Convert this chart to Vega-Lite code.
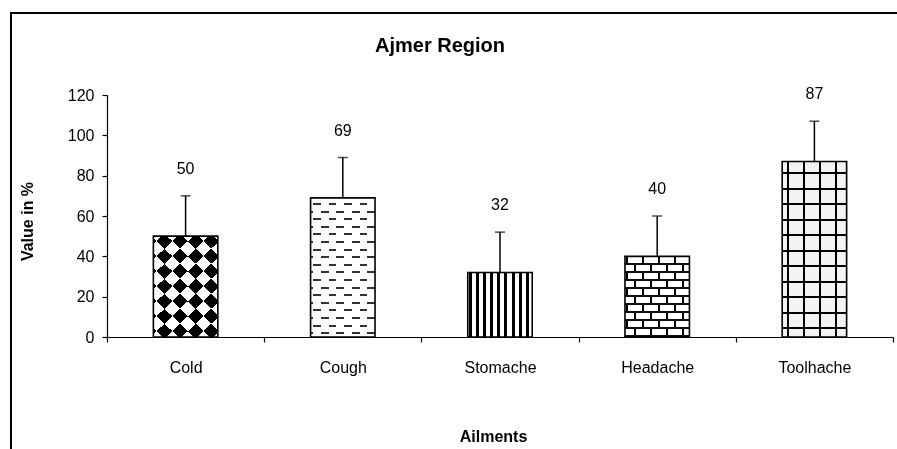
{
  "$schema": "https://vega.github.io/schema/vega-lite/v6.json",
  "width": 888,
  "height": 438,
  "autosize": {"type": "none"},
  "padding": {"left": 11, "top": 13, "right": -2, "bottom": -2},
  "background": "white",
  "title": {"text": "Ajmer Region", "font": "Liberation Sans", "fontSize": 20, "fontWeight": "bold", "color": "#000", "anchor": "middle", "frame": "group", "dx": -15, "offset": -59, "baseline": "alphabetic"},
  "data": {"values": [
    {"Ailment": "Cold", "Value": 50, "Upper": 70},
    {"Ailment": "Cough", "Value": 69, "Upper": 89},
    {"Ailment": "Stomache", "Value": 32, "Upper": 52},
    {"Ailment": "Headache", "Value": 40, "Upper": 60},
    {"Ailment": "Toolhache", "Value": 87, "Upper": 107}
  ]},
  "encoding": {
    "x": {"field": "Ailment", "type": "nominal", "sort": null,
      "scale": {"type": "band", "paddingInner": 0, "paddingOuter": 0, "range": [96, 882]},
      "axis": {"orient": "bottom", "offset": -114, "labelAngle": 0, "labelFontSize": 16, "labelPadding": 17, "labelBaseline": "top", "tickSize": 5, "tickBand": "extent", "title": "Ailments", "titleFontSize": 16, "titleFontWeight": "bold", "titleX": 482, "titleY": 104.5, "titleBaseline": "alphabetic", "titleAlign": "center"}},
    "y": {"field": "Value", "type": "quantitative",
      "scale": {"domain": [0, 120], "range": [324, 82], "nice": false, "zero": true},
      "axis": {"orient": "left", "offset": -96, "values": [0, 20, 40, 60, 80, 100, 120], "labelFontSize": 16, "labelPadding": 8, "tickSize": 5, "title": "Value in %", "titleFontSize": 16, "titleFontWeight": "bold", "titleX": -75, "titleY": 208, "titleBaseline": "alphabetic", "titleAlign": "center", "titleAngle": 270}}
  },
  "layer": [
    {"transform": [{"filter": "datum.Ailment === 'Cold'"}],
     "mark": {"type": "bar", "width": {"band": 0.41}, "stroke": null, "fill": {"gradient": "linear", "x1": 0, "y1": 0, "x2": 0.72, "y2": 1.172, "stops": [
       {"offset": 0, "color": "#fff"}, {"offset": 0.05, "color": "#fff"}, {"offset": 0.05, "color": "#000"}, {"offset": 0.1422, "color": "#000"}, {"offset": 0.1422, "color": "#fff"}, {"offset": 0.2344, "color": "#fff"}, {"offset": 0.2344, "color": "#000"}, {"offset": 0.3265, "color": "#000"}, {"offset": 0.3265, "color": "#fff"}, {"offset": 0.4187, "color": "#fff"}, {"offset": 0.4187, "color": "#000"}, {"offset": 0.5109, "color": "#000"}, {"offset": 0.5109, "color": "#fff"}, {"offset": 0.6031, "color": "#fff"}, {"offset": 0.6031, "color": "#000"}, {"offset": 0.6952, "color": "#000"}, {"offset": 0.6952, "color": "#fff"}, {"offset": 0.7874, "color": "#fff"}, {"offset": 0.7874, "color": "#000"}, {"offset": 0.8796, "color": "#000"}, {"offset": 0.8796, "color": "#fff"}, {"offset": 0.9718, "color": "#fff"}, {"offset": 0.9718, "color": "#000"}, {"offset": 1, "color": "#000"}]}}},
    {"transform": [{"filter": "datum.Ailment === 'Cold'"}],
     "mark": {"type": "bar", "width": {"band": 0.41}, "stroke": null, "blend": "difference", "fill": {"gradient": "linear", "x1": 0, "y1": 1, "x2": 0.72, "y2": -0.172, "stops": [
       {"offset": 0, "color": "#fff"}, {"offset": 0.055, "color": "#fff"}, {"offset": 0.055, "color": "#000"}, {"offset": 0.1472, "color": "#000"}, {"offset": 0.1472, "color": "#fff"}, {"offset": 0.2394, "color": "#fff"}, {"offset": 0.2394, "color": "#000"}, {"offset": 0.3316, "color": "#000"}, {"offset": 0.3316, "color": "#fff"}, {"offset": 0.4237, "color": "#fff"}, {"offset": 0.4237, "color": "#000"}, {"offset": 0.5159, "color": "#000"}, {"offset": 0.5159, "color": "#fff"}, {"offset": 0.6081, "color": "#fff"}, {"offset": 0.6081, "color": "#000"}, {"offset": 0.7003, "color": "#000"}, {"offset": 0.7003, "color": "#fff"}, {"offset": 0.7924, "color": "#fff"}, {"offset": 0.7924, "color": "#000"}, {"offset": 0.8846, "color": "#000"}, {"offset": 0.8846, "color": "#fff"}, {"offset": 0.9768, "color": "#fff"}, {"offset": 0.9768, "color": "#000"}, {"offset": 1, "color": "#000"}]}}},
    {"transform": [{"filter": "datum.Ailment === 'Cough'"}],
     "mark": {"type": "bar", "width": {"band": 0.41}, "stroke": null, "fill": {"gradient": "linear", "x1": 0, "y1": 0, "x2": 1, "y2": 0, "stops": [
       {"offset": 0, "color": "#fff"}, {"offset": 0.0388, "color": "#fff"}, {"offset": 0.0388, "color": "#000"}, {"offset": 0.155, "color": "#000"}, {"offset": 0.155, "color": "#fff"}, {"offset": 0.2791, "color": "#fff"}, {"offset": 0.2791, "color": "#000"}, {"offset": 0.3953, "color": "#000"}, {"offset": 0.3953, "color": "#fff"}, {"offset": 0.5194, "color": "#fff"}, {"offset": 0.5194, "color": "#000"}, {"offset": 0.6357, "color": "#000"}, {"offset": 0.6357, "color": "#fff"}, {"offset": 0.7597, "color": "#fff"}, {"offset": 0.7597, "color": "#000"}, {"offset": 0.876, "color": "#000"}, {"offset": 0.876, "color": "#fff"}, {"offset": 1, "color": "#fff"}]}}},
    {"transform": [{"filter": "datum.Ailment === 'Cough'"}],
     "mark": {"type": "bar", "width": {"band": 0.41}, "stroke": null, "blend": "difference", "fill": {"gradient": "linear", "x1": 0, "y1": 0, "x2": 0, "y2": 1, "stops": [
       {"offset": 0, "color": "#000"}, {"offset": 0.0718, "color": "#000"}, {"offset": 0.0718, "color": "#fff"}, {"offset": 0.1264, "color": "#fff"}, {"offset": 0.1264, "color": "#000"}, {"offset": 0.181, "color": "#000"}, {"offset": 0.181, "color": "#fff"}, {"offset": 0.2356, "color": "#fff"}, {"offset": 0.2356, "color": "#000"}, {"offset": 0.2902, "color": "#000"}, {"offset": 0.2902, "color": "#fff"}, {"offset": 0.3448, "color": "#fff"}, {"offset": 0.3448, "color": "#000"}, {"offset": 0.3994, "color": "#000"}, {"offset": 0.3994, "color": "#fff"}, {"offset": 0.454, "color": "#fff"}, {"offset": 0.454, "color": "#000"}, {"offset": 0.5086, "color": "#000"}, {"offset": 0.5086, "color": "#fff"}, {"offset": 0.5632, "color": "#fff"}, {"offset": 0.5632, "color": "#000"}, {"offset": 0.6178, "color": "#000"}, {"offset": 0.6178, "color": "#fff"}, {"offset": 0.6724, "color": "#fff"}, {"offset": 0.6724, "color": "#000"}, {"offset": 0.727, "color": "#000"}, {"offset": 0.727, "color": "#fff"}, {"offset": 0.7816, "color": "#fff"}, {"offset": 0.7816, "color": "#000"}, {"offset": 0.8362, "color": "#000"}, {"offset": 0.8362, "color": "#fff"}, {"offset": 0.8908, "color": "#fff"}, {"offset": 0.8908, "color": "#000"}, {"offset": 0.9454, "color": "#000"}, {"offset": 0.9454, "color": "#fff"}, {"offset": 1, "color": "#fff"}]}}},
    {"transform": [{"filter": "datum.Ailment === 'Cough'"}],
     "mark": {"type": "bar", "width": {"band": 0.41}, "stroke": null, "blend": "lighten", "fill": {"gradient": "linear", "x1": 0, "y1": 0, "x2": 0, "y2": 1, "stops": [
       {"offset": 0, "color": "#fff"}, {"offset": 0.0374, "color": "#fff"}, {"offset": 0.0374, "color": "#333"}, {"offset": 0.0517, "color": "#333"}, {"offset": 0.0517, "color": "#fff"},
       {"offset": 0.092, "color": "#fff"}, {"offset": 0.092, "color": "#333"}, {"offset": 0.1063, "color": "#333"}, {"offset": 0.1063, "color": "#fff"},
       {"offset": 0.1466, "color": "#fff"}, {"offset": 0.1466, "color": "#333"}, {"offset": 0.1609, "color": "#333"}, {"offset": 0.1609, "color": "#fff"},
       {"offset": 0.2011, "color": "#fff"}, {"offset": 0.2011, "color": "#333"}, {"offset": 0.2155, "color": "#333"}, {"offset": 0.2155, "color": "#fff"},
       {"offset": 0.2557, "color": "#fff"}, {"offset": 0.2557, "color": "#333"}, {"offset": 0.2701, "color": "#333"}, {"offset": 0.2701, "color": "#fff"},
       {"offset": 0.3103, "color": "#fff"}, {"offset": 0.3103, "color": "#333"}, {"offset": 0.3247, "color": "#333"}, {"offset": 0.3247, "color": "#fff"},
       {"offset": 0.3649, "color": "#fff"}, {"offset": 0.3649, "color": "#333"}, {"offset": 0.3793, "color": "#333"}, {"offset": 0.3793, "color": "#fff"},
       {"offset": 0.4195, "color": "#fff"}, {"offset": 0.4195, "color": "#333"}, {"offset": 0.4339, "color": "#333"}, {"offset": 0.4339, "color": "#fff"},
       {"offset": 0.4741, "color": "#fff"}, {"offset": 0.4741, "color": "#333"}, {"offset": 0.4885, "color": "#333"}, {"offset": 0.4885, "color": "#fff"},
       {"offset": 0.5287, "color": "#fff"}, {"offset": 0.5287, "color": "#333"}, {"offset": 0.5431, "color": "#333"}, {"offset": 0.5431, "color": "#fff"},
       {"offset": 0.5833, "color": "#fff"}, {"offset": 0.5833, "color": "#333"}, {"offset": 0.5977, "color": "#333"}, {"offset": 0.5977, "color": "#fff"},
       {"offset": 0.6379, "color": "#fff"}, {"offset": 0.6379, "color": "#333"}, {"offset": 0.6523, "color": "#333"}, {"offset": 0.6523, "color": "#fff"},
       {"offset": 0.6925, "color": "#fff"}, {"offset": 0.6925, "color": "#333"}, {"offset": 0.7069, "color": "#333"}, {"offset": 0.7069, "color": "#fff"},
       {"offset": 0.7471, "color": "#fff"}, {"offset": 0.7471, "color": "#333"}, {"offset": 0.7615, "color": "#333"}, {"offset": 0.7615, "color": "#fff"},
       {"offset": 0.8017, "color": "#fff"}, {"offset": 0.8017, "color": "#333"}, {"offset": 0.8161, "color": "#333"}, {"offset": 0.8161, "color": "#fff"},
       {"offset": 0.8563, "color": "#fff"}, {"offset": 0.8563, "color": "#333"}, {"offset": 0.8707, "color": "#333"}, {"offset": 0.8707, "color": "#fff"},
       {"offset": 0.9109, "color": "#fff"}, {"offset": 0.9109, "color": "#333"}, {"offset": 0.9253, "color": "#333"}, {"offset": 0.9253, "color": "#fff"},
       {"offset": 0.9655, "color": "#fff"}, {"offset": 0.9655, "color": "#333"}, {"offset": 0.9799, "color": "#333"}, {"offset": 0.9799, "color": "#fff"}, {"offset": 1, "color": "#fff"}]}}},
    {"transform": [{"filter": "datum.Ailment === 'Stomache'"}],
     "mark": {"type": "bar", "width": {"band": 0.41}, "stroke": null, "fill": {"gradient": "linear", "x1": 0, "y1": 0, "x2": 1, "y2": 0, "stops": [
       {"offset": 0, "color": "#fff"}, {"offset": 0.0186, "color": "#fff"}, {"offset": 0.0186, "color": "#000"}, {"offset": 0.0652, "color": "#000"}, {"offset": 0.0652, "color": "#fff"},
       {"offset": 0.1288, "color": "#fff"}, {"offset": 0.1288, "color": "#000"}, {"offset": 0.1753, "color": "#000"}, {"offset": 0.1753, "color": "#fff"},
       {"offset": 0.2389, "color": "#fff"}, {"offset": 0.2389, "color": "#000"}, {"offset": 0.2855, "color": "#000"}, {"offset": 0.2855, "color": "#fff"},
       {"offset": 0.3491, "color": "#fff"}, {"offset": 0.3491, "color": "#000"}, {"offset": 0.3957, "color": "#000"}, {"offset": 0.3957, "color": "#fff"},
       {"offset": 0.4593, "color": "#fff"}, {"offset": 0.4593, "color": "#000"}, {"offset": 0.5058, "color": "#000"}, {"offset": 0.5058, "color": "#fff"},
       {"offset": 0.5694, "color": "#fff"}, {"offset": 0.5694, "color": "#000"}, {"offset": 0.616, "color": "#000"}, {"offset": 0.616, "color": "#fff"},
       {"offset": 0.6796, "color": "#fff"}, {"offset": 0.6796, "color": "#000"}, {"offset": 0.7262, "color": "#000"}, {"offset": 0.7262, "color": "#fff"},
       {"offset": 0.7898, "color": "#fff"}, {"offset": 0.7898, "color": "#000"}, {"offset": 0.8363, "color": "#000"}, {"offset": 0.8363, "color": "#fff"},
       {"offset": 0.8999, "color": "#fff"}, {"offset": 0.8999, "color": "#000"}, {"offset": 0.9465, "color": "#000"}, {"offset": 0.9465, "color": "#fff"}, {"offset": 1, "color": "#fff"}]}}},
    {"transform": [{"filter": "datum.Ailment === 'Headache'"}],
     "mark": {"type": "bar", "width": {"band": 0.41}, "stroke": null, "fill": {"gradient": "linear", "x1": 0, "y1": 0, "x2": 1, "y2": 0, "stops": [
       {"offset": 0, "color": "#fff"}, {"offset": 0.0109, "color": "#fff"}, {"offset": 0.0109, "color": "#000"}, {"offset": 0.0419, "color": "#000"}, {"offset": 0.0419, "color": "#fff"},
       {"offset": 0.1349, "color": "#fff"}, {"offset": 0.1349, "color": "#000"}, {"offset": 0.1659, "color": "#000"}, {"offset": 0.1659, "color": "#fff"},
       {"offset": 0.2589, "color": "#fff"}, {"offset": 0.2589, "color": "#000"}, {"offset": 0.2899, "color": "#000"}, {"offset": 0.2899, "color": "#fff"},
       {"offset": 0.3829, "color": "#fff"}, {"offset": 0.3829, "color": "#000"}, {"offset": 0.414, "color": "#000"}, {"offset": 0.414, "color": "#fff"},
       {"offset": 0.507, "color": "#fff"}, {"offset": 0.507, "color": "#000"}, {"offset": 0.538, "color": "#000"}, {"offset": 0.538, "color": "#fff"},
       {"offset": 0.631, "color": "#fff"}, {"offset": 0.631, "color": "#000"}, {"offset": 0.662, "color": "#000"}, {"offset": 0.662, "color": "#fff"},
       {"offset": 0.755, "color": "#fff"}, {"offset": 0.755, "color": "#000"}, {"offset": 0.786, "color": "#000"}, {"offset": 0.786, "color": "#fff"},
       {"offset": 0.8791, "color": "#fff"}, {"offset": 0.8791, "color": "#000"}, {"offset": 0.9101, "color": "#000"}, {"offset": 0.9101, "color": "#fff"}, {"offset": 1, "color": "#fff"}]}}},
    {"transform": [{"filter": "datum.Ailment === 'Headache'"}],
     "mark": {"type": "bar", "width": {"band": 0.41}, "stroke": null, "blend": "lighten", "fill": {"gradient": "linear", "x1": 0, "y1": 0, "x2": 0, "y2": 1, "stops": [
       {"offset": 0, "color": "#000"}, {"offset": 0.0992, "color": "#000"}, {"offset": 0.0992, "color": "#fff"}, {"offset": 0.1983, "color": "#fff"}, {"offset": 0.1983, "color": "#000"}, {"offset": 0.2975, "color": "#000"}, {"offset": 0.2975, "color": "#fff"}, {"offset": 0.3967, "color": "#fff"}, {"offset": 0.3967, "color": "#000"}, {"offset": 0.4958, "color": "#000"}, {"offset": 0.4958, "color": "#fff"}, {"offset": 0.595, "color": "#fff"}, {"offset": 0.595, "color": "#000"}, {"offset": 0.6942, "color": "#000"}, {"offset": 0.6942, "color": "#fff"}, {"offset": 0.7934, "color": "#fff"}, {"offset": 0.7934, "color": "#000"}, {"offset": 0.8925, "color": "#000"}, {"offset": 0.8925, "color": "#fff"}, {"offset": 0.9917, "color": "#fff"}, {"offset": 0.9917, "color": "#000"}, {"offset": 1, "color": "#000"}]}}},
    {"transform": [{"filter": "datum.Ailment === 'Headache'"}],
     "mark": {"type": "bar", "width": {"band": 0.41}, "stroke": null, "blend": "difference", "fill": {"gradient": "linear", "x1": 0, "y1": 0, "x2": 1, "y2": 0, "stops": [
       {"offset": 0, "color": "#000"}, {"offset": 0.1349, "color": "#000"}, {"offset": 0.1349, "color": "#fff"}, {"offset": 0.1659, "color": "#fff"}, {"offset": 0.1659, "color": "#000"},
       {"offset": 0.3829, "color": "#000"}, {"offset": 0.3829, "color": "#fff"}, {"offset": 0.414, "color": "#fff"}, {"offset": 0.414, "color": "#000"},
       {"offset": 0.631, "color": "#000"}, {"offset": 0.631, "color": "#fff"}, {"offset": 0.662, "color": "#fff"}, {"offset": 0.662, "color": "#000"},
       {"offset": 0.8791, "color": "#000"}, {"offset": 0.8791, "color": "#fff"}, {"offset": 0.9101, "color": "#fff"}, {"offset": 0.9101, "color": "#000"}, {"offset": 1, "color": "#000"}]}}},
    {"transform": [{"filter": "datum.Ailment === 'Headache'"}],
     "mark": {"type": "bar", "width": {"band": 0.41}, "stroke": null, "fill": {"gradient": "linear", "x1": 0, "y1": 0, "x2": 0, "y2": 1, "stops": [
       {"offset": 0, "color": "rgba(0,0,0,0)"}, {"offset": 0.0868, "color": "rgba(0,0,0,0)"}, {"offset": 0.0868, "color": "#111"}, {"offset": 0.1116, "color": "#111"}, {"offset": 0.1116, "color": "rgba(0,0,0,0)"},
       {"offset": 0.1859, "color": "rgba(0,0,0,0)"}, {"offset": 0.1859, "color": "#111"}, {"offset": 0.2107, "color": "#111"}, {"offset": 0.2107, "color": "rgba(0,0,0,0)"},
       {"offset": 0.2851, "color": "rgba(0,0,0,0)"}, {"offset": 0.2851, "color": "#111"}, {"offset": 0.3099, "color": "#111"}, {"offset": 0.3099, "color": "rgba(0,0,0,0)"},
       {"offset": 0.3843, "color": "rgba(0,0,0,0)"}, {"offset": 0.3843, "color": "#111"}, {"offset": 0.4091, "color": "#111"}, {"offset": 0.4091, "color": "rgba(0,0,0,0)"},
       {"offset": 0.4834, "color": "rgba(0,0,0,0)"}, {"offset": 0.4834, "color": "#111"}, {"offset": 0.5082, "color": "#111"}, {"offset": 0.5082, "color": "rgba(0,0,0,0)"},
       {"offset": 0.5826, "color": "rgba(0,0,0,0)"}, {"offset": 0.5826, "color": "#111"}, {"offset": 0.6074, "color": "#111"}, {"offset": 0.6074, "color": "rgba(0,0,0,0)"},
       {"offset": 0.6818, "color": "rgba(0,0,0,0)"}, {"offset": 0.6818, "color": "#111"}, {"offset": 0.7066, "color": "#111"}, {"offset": 0.7066, "color": "rgba(0,0,0,0)"},
       {"offset": 0.781, "color": "rgba(0,0,0,0)"}, {"offset": 0.781, "color": "#111"}, {"offset": 0.8058, "color": "#111"}, {"offset": 0.8058, "color": "rgba(0,0,0,0)"},
       {"offset": 0.8801, "color": "rgba(0,0,0,0)"}, {"offset": 0.8801, "color": "#111"}, {"offset": 0.9049, "color": "#111"}, {"offset": 0.9049, "color": "rgba(0,0,0,0)"},
       {"offset": 0.9793, "color": "rgba(0,0,0,0)"}, {"offset": 0.9793, "color": "#111"}, {"offset": 1, "color": "#111"}]}}},
    {"transform": [{"filter": "datum.Ailment === 'Toolhache'"}],
     "mark": {"type": "bar", "width": {"band": 0.41}, "stroke": null, "fill": {"gradient": "linear", "x1": 0, "y1": 0, "x2": 1, "y2": 0, "stops": [
       {"offset": 0, "color": "#f3f3f3"}, {"offset": 0.0791, "color": "#f3f3f3"}, {"offset": 0.0791, "color": "#000"}, {"offset": 0.1102, "color": "#000"}, {"offset": 0.1102, "color": "#f3f3f3"},
       {"offset": 0.3258, "color": "#f3f3f3"}, {"offset": 0.3258, "color": "#000"}, {"offset": 0.3569, "color": "#000"}, {"offset": 0.3569, "color": "#f3f3f3"},
       {"offset": 0.5725, "color": "#f3f3f3"}, {"offset": 0.5725, "color": "#000"}, {"offset": 0.6036, "color": "#000"}, {"offset": 0.6036, "color": "#f3f3f3"},
       {"offset": 0.8192, "color": "#f3f3f3"}, {"offset": 0.8192, "color": "#000"}, {"offset": 0.8503, "color": "#000"}, {"offset": 0.8503, "color": "#f3f3f3"}, {"offset": 1, "color": "#f3f3f3"}]}}},
    {"transform": [{"filter": "datum.Ailment === 'Toolhache'"}],
     "mark": {"type": "bar", "width": {"band": 0.41}, "stroke": null, "fill": {"gradient": "linear", "x1": 0, "y1": 0, "x2": 0, "y2": 1, "stops": [
       {"offset": 0, "color": "rgba(0,0,0,0)"}, {"offset": 0.0615, "color": "rgba(0,0,0,0)"}, {"offset": 0.0615, "color": "#000"}, {"offset": 0.0729, "color": "#000"}, {"offset": 0.0729, "color": "rgba(0,0,0,0)"},
       {"offset": 0.1499, "color": "rgba(0,0,0,0)"}, {"offset": 0.1499, "color": "#000"}, {"offset": 0.1613, "color": "#000"}, {"offset": 0.1613, "color": "rgba(0,0,0,0)"},
       {"offset": 0.2382, "color": "rgba(0,0,0,0)"}, {"offset": 0.2382, "color": "#000"}, {"offset": 0.2496, "color": "#000"}, {"offset": 0.2496, "color": "rgba(0,0,0,0)"},
       {"offset": 0.3265, "color": "rgba(0,0,0,0)"}, {"offset": 0.3265, "color": "#000"}, {"offset": 0.3379, "color": "#000"}, {"offset": 0.3379, "color": "rgba(0,0,0,0)"},
       {"offset": 0.4148, "color": "rgba(0,0,0,0)"}, {"offset": 0.4148, "color": "#000"}, {"offset": 0.4262, "color": "#000"}, {"offset": 0.4262, "color": "rgba(0,0,0,0)"},
       {"offset": 0.5031, "color": "rgba(0,0,0,0)"}, {"offset": 0.5031, "color": "#000"}, {"offset": 0.5145, "color": "#000"}, {"offset": 0.5145, "color": "rgba(0,0,0,0)"},
       {"offset": 0.5915, "color": "rgba(0,0,0,0)"}, {"offset": 0.5915, "color": "#000"}, {"offset": 0.6028, "color": "#000"}, {"offset": 0.6028, "color": "rgba(0,0,0,0)"},
       {"offset": 0.6798, "color": "rgba(0,0,0,0)"}, {"offset": 0.6798, "color": "#000"}, {"offset": 0.6912, "color": "#000"}, {"offset": 0.6912, "color": "rgba(0,0,0,0)"},
       {"offset": 0.7681, "color": "rgba(0,0,0,0)"}, {"offset": 0.7681, "color": "#000"}, {"offset": 0.7795, "color": "#000"}, {"offset": 0.7795, "color": "rgba(0,0,0,0)"},
       {"offset": 0.8564, "color": "rgba(0,0,0,0)"}, {"offset": 0.8564, "color": "#000"}, {"offset": 0.8678, "color": "#000"}, {"offset": 0.8678, "color": "rgba(0,0,0,0)"},
       {"offset": 0.9447, "color": "rgba(0,0,0,0)"}, {"offset": 0.9447, "color": "#000"}, {"offset": 0.9561, "color": "#000"}, {"offset": 0.9561, "color": "rgba(0,0,0,0)"}, {"offset": 1, "color": "rgba(0,0,0,0)"}]}}},
    {"mark": {"type": "bar", "width": {"band": 0.41}, "fill": null, "fillOpacity": 0, "stroke": "#000", "strokeWidth": 1.6}},
    {"mark": {"type": "rule", "color": "#000", "strokeWidth": 1.5},
     "encoding": {"y": {"field": "Value", "type": "quantitative"}, "y2": {"field": "Upper"}}},
    {"mark": {"type": "tick", "color": "#000", "size": 10, "thickness": 1.5, "orient": "horizontal"},
     "encoding": {"y": {"field": "Upper", "type": "quantitative"}}},
    {"mark": {"type": "text", "font": "Liberation Sans", "fontSize": 16, "color": "#000", "baseline": "alphabetic", "dy": -22},
     "encoding": {"y": {"field": "Upper", "type": "quantitative"}, "text": {"field": "Value", "type": "quantitative"}}}
  ],
  "config": {
    "font": "Liberation Sans",
    "view": {"stroke": "#000", "strokeWidth": 2},
    "axis": {"labelFont": "Liberation Sans", "titleFont": "Liberation Sans", "labelColor": "#000", "titleColor": "#000", "domainColor": "#000", "tickColor": "#000", "grid": false, "domainWidth": 1.2, "tickWidth": 1.2}
  }
}
